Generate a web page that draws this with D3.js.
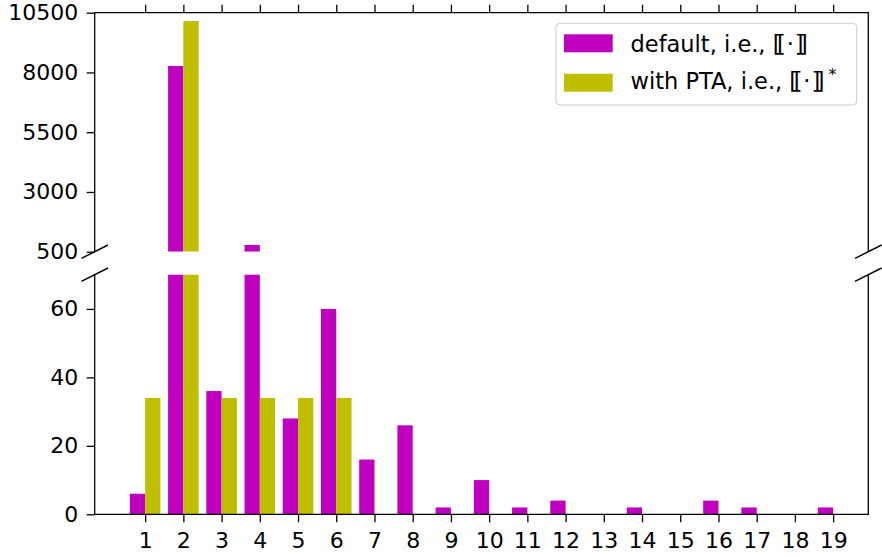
<!DOCTYPE html>
<html>
<head>
<meta charset="utf-8">
<script src="https://cdn.jsdelivr.net/npm/d3@7"></script>
<style>
  body { margin: 0; background: #fff; }
</style>
</head>
<body>
<svg id="chart" width="882" height="557"></svg>
<script>
// data
const categories = [1, 2, 3, 4, 5, 6, 7, 8, 9, 10, 11, 12, 13, 14, 15, 16, 17, 18, 19];
const defaultVals = [6, 8270, 36, 780, 28, 60, 16, 26, 2, 10, 2, 4, 0, 2, 0, 4, 2, 0, 2];
const ptaVals = [34, 10150, 34, 34, 34, 34, 0, 0, 0, 0, 0, 0, 0, 0, 0, 0, 0, 0, 0];
const topTicks = [500, 3000, 5500, 8000, 10500];
const bottomTicks = [0, 20, 40, 60];
const seriesNames = ["default", "with PTA"];

const FONT = "DejaVu Sans";
const svg = d3.select("#chart").attr("font-family", FONT);
const left = 94.7, right = 868.3;
const topY0 = 12.7, topY1 = 251.7;
const botY0 = 274.7, botY1 = 514.3;
const magenta = "#bf00bf", olive = "#bfbf00";
const barW = 0.4;

let x = d3.scaleLinear().domain([-0.32, 19.92]).range([left, right]);
let yTop = d3.scaleLinear().domain([500, 10500]).range([topY1, topY0]);
let yBot = d3.scaleLinear().domain([0, 70]).range([botY1, botY0]);

let defs = svg.append("defs");
defs.append("clipPath").attr("id", "clipTop")
  .append("rect").attr("x", left).attr("y", topY0).attr("width", right - left).attr("height", topY1 - topY0);
defs.append("clipPath").attr("id", "clipBot")
  .append("rect").attr("x", left).attr("y", botY0).attr("width", right - left).attr("height", botY1 - botY0);

let rows = categories.map((c, i) => ({c: c, d: defaultVals[i], p: ptaVals[i]}));

function drawBars(g, y, base) {
  g.selectAll("rect.def")
    .data(rows.filter(r => r.d > base))
    .enter().append("rect")
      .attr("class", "def")
      .attr("x", r => x(r.c - barW))
      .attr("width", r => x(r.c) - x(r.c - barW))
      .attr("y", r => y(r.d))
      .attr("height", r => y(base) - y(r.d))
      .attr("fill", magenta);
  g.selectAll("rect.pta")
    .data(rows.filter(r => r.p > base))
    .enter().append("rect")
      .attr("class", "pta")
      .attr("x", r => x(r.c))
      .attr("width", r => x(r.c + barW) - x(r.c))
      .attr("y", r => y(r.p))
      .attr("height", r => y(base) - y(r.p))
      .attr("fill", olive);
}

drawBars(svg.append("g").attr("clip-path", "url(#clipTop)"), yTop, 500);
drawBars(svg.append("g").attr("clip-path", "url(#clipBot)"), yBot, 0);

// axes
function styleAxis(g) {
  g.attr("font-family", FONT).attr("font-size", 22);
  g.select(".domain").remove();
  g.selectAll(".tick line").attr("stroke", "#000").attr("stroke-width", 1.3);
  g.selectAll(".tick text").attr("fill", "#000");
}

svg.append("g")
  .attr("transform", `translate(${left},0)`)
  .call(d3.axisLeft(yTop).tickValues(topTicks).tickSize(8).tickPadding(8.5).tickFormat(d3.format("d")))
  .call(styleAxis);

svg.append("g")
  .attr("transform", `translate(${left},0)`)
  .call(d3.axisLeft(yBot).tickValues(bottomTicks).tickSize(8).tickPadding(8.5).tickFormat(d3.format("d")))
  .call(styleAxis);

svg.append("g")
  .attr("transform", `translate(0,${topY0})`)
  .call(d3.axisTop(x).tickValues(categories).tickSize(8).tickFormat(""))
  .call(styleAxis);

svg.append("g")
  .attr("transform", `translate(0,${botY1})`)
  .call(d3.axisBottom(x).tickValues(categories).tickSize(8).tickPadding(10))
  .call(styleAxis);

// spines
let spines = svg.append("g").attr("stroke", "#000").attr("stroke-width", 1.3).attr("fill", "none");
spines.append("path").attr("d", `M${left},${topY1}V${topY0}H${right}V${topY1}`);
spines.append("path").attr("d", `M${left},${botY0}V${botY1}H${right}V${botY0}`);

// break marks
let brk = svg.append("g").attr("stroke", "#000").attr("stroke-width", 1.4);
[[left, topY1], [right, topY1], [left, botY0], [right, botY0]].forEach(p => {
  brk.append("line")
    .attr("x1", p[0] - 13.3).attr("y1", p[1] + 6.7)
    .attr("x2", p[0] + 13.3).attr("y2", p[1] - 6.7);
});

// legend
let lg = svg.append("g");
lg.append("rect")
  .attr("x", 556).attr("y", 23.3).attr("width", 300.7).attr("height", 81.7)
  .attr("rx", 4).attr("fill", "#fff").attr("fill-opacity", 0.8)
  .attr("stroke", "#ccc").attr("stroke-width", 1);

[magenta, olive].forEach((col, i) => {
  let yy = 34.3 + i * 39.4;
  lg.append("rect").attr("x", 564).attr("y", yy).attr("width", 48.7).attr("height", 18).attr("fill", col);
  let t = lg.append("text")
    .attr("x", 630.5).attr("y", yy + 17.5 - i * 2)
    .attr("font-size", 22.5).attr("fill", "#000");
  t.append("tspan").text(seriesNames[i] + ", i.e., [");
  t.append("tspan").attr("dx", "-0.2em").text("[");
  t.append("tspan").attr("dx", "0.04em").text("\u00b7");
  t.append("tspan").attr("dx", "0.04em").text("]");
  t.append("tspan").attr("dx", "-0.2em").text("]");
  if (i === 1) {
    t.append("tspan").attr("font-size", 16).attr("dx", 4).attr("dy", -9).text("*");
  }
});
</script>
</body>
</html>
